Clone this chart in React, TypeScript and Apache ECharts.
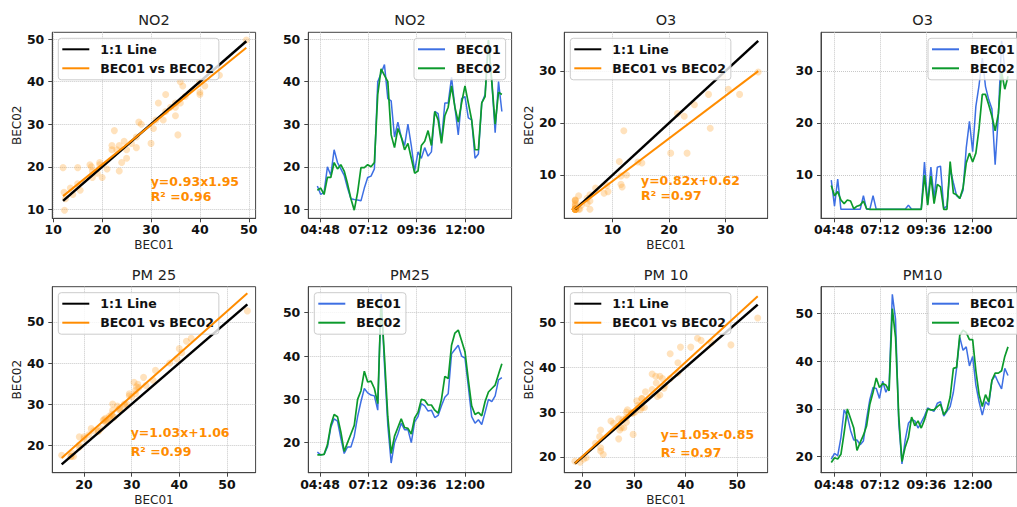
import React, { useEffect, useRef } from "react";
import * as echarts from "echarts";

// ---------- data ----------
const TIMES = [
  "04:40", "04:50", "05:00", "05:10", "05:20", "05:30", "05:40", "05:50", "06:00", "06:10",
  "06:20", "06:30", "06:40", "06:50", "07:00", "07:10", "07:20", "07:30", "07:40", "07:50",
  "08:00", "08:10", "08:20", "08:30", "08:40", "08:50", "09:00", "09:10", "09:20", "09:30",
  "09:40", "09:50", "10:00", "10:10", "10:20", "10:30", "10:40", "10:50", "11:00", "11:10",
  "11:20", "11:30", "11:40", "11:50", "12:00", "12:10", "12:20", "12:30", "12:40", "12:50",
  "13:00", "13:10", "13:20", "13:30", "13:40", "13:50",
];
const TIME_TICKS = ["04:48", "07:12", "09:36", "12:00"];

const NO2_BEC01 = [
  15.5, 13.5, 14, 20, 18, 24, 21, 19.5, 18, 15,
  12.5, 12.3, 12.2, 12, 15, 17.5, 17.8, 19.5, 40, 42,
  44, 36, 35.5, 27, 30.5, 27, 25, 30, 25, 19,
  23.5, 22, 24.5, 22.5, 23.5, 33, 32.5, 26, 35, 35,
  41, 34, 27.5, 36, 36.5, 31.5, 31, 22, 23, 35,
  37, 49.5, 40, 28, 40, 33,
];
const NO2_BEC02 = [
  14.5, 15, 13.5, 17.5, 17.5, 21, 19.5, 20.5, 19, 16,
  12.5, 9.8, 14, 19.8, 19.8, 20.5, 20, 21, 37, 43,
  41.5, 40, 27.5, 24.5, 29, 27, 24, 25.5, 22, 18.5,
  19, 25, 26, 28.5, 25, 33, 31, 25.5, 32, 34,
  39, 34, 30.5, 35, 39, 35, 31, 24, 24, 35,
  36.5, 49.8, 40, 30, 37.5, 37,
];
const O3_BEC01 = [
  9, 4, 9.2, 3.4, 3.4, 3.4, 3.4, 3.4, 3.4, 3.4,
  6, 3.4, 3.4, 6, 3.4, 3.4, 3.4, 3.4, 3.4, 3.4,
  3.4, 3.4, 3.4, 3.4, 4.2, 3.4, 3.4, 3.4, 3.4, 12.5,
  4.5, 11.5, 5.5, 11.5, 11.7, 3.6, 4, 11.2, 8.5, 6,
  5.5, 7, 15.2, 20.3, 14.5, 23.2, 27.3, 32.5, 27, 24.5,
  22.7, 12, 21.5, 35.8, 30.5, 29.5,
];
const O3_BEC02 = [
  8, 6, 6.8, 5.2, 4.5, 5.2, 5, 3.5, 4, 4.2,
  5, 3.5, 3.4, 3.4, 3.4, 3.4, 3.4, 3.4, 3.4, 3.4,
  3.4, 3.4, 3.4, 3.4, 3.4, 3.4, 3.4, 3.4, 3.4, 10,
  4.2, 9.8, 4.5, 8.2, 7.7, 3.4, 3.4, 12.6, 6.5, 6.2,
  5.5, 7.5, 12.3, 14.2, 12.5, 14.2, 19, 25.5, 25.5, 23.5,
  21.3, 18.5, 21.8, 29.8, 26.5, 29,
];
const PM25_BEC01 = [
  17.8, 17.2, 17.3, 19, 23.5, 25.5, 25, 21, 17.5, 19,
  19, 21.5, 26, 29.5, 32.5, 31.5, 31, 30.8, 27.5, 54.3,
  38, 24, 15.3, 20, 22, 24.5, 23, 23, 20, 24.8,
  26, 29, 28.5, 27.3, 27.5, 25.8, 26.3, 28.5, 30.5, 31.3,
  40.5, 41.5, 42.5, 40, 39.5, 33, 26, 24.5, 25.3, 24.2,
  27, 30, 29.5, 30.8, 34.5, 35,
];
const PM25_BEC02 = [
  17.2, 17.2, 17.3, 19.5, 24, 26.5, 26, 22.5, 18, 20,
  22, 24, 30, 32, 36.5, 34, 34.2, 32.5, 29, 52.7,
  40, 26, 17.5, 21.5, 23.5, 25.5, 23.5, 23.3, 22, 25.7,
  27, 30, 29.8, 28.7, 28.7, 27.5, 26.8, 30, 35.3, 34.8,
  42.5, 45.3, 46, 43.5, 41, 34.5, 28.5, 26.5, 27, 26.2,
  29.5, 31.7, 32.5, 33.3, 35.8, 38.2,
];
const PM10_BEC01 = [
  19.5, 20.7, 20.2, 24, 29.8, 28.5, 25.5, 23.5, 23.5, 22.5,
  23.3, 28, 32, 34.5, 34.3, 32.2, 35.8, 33.5, 35, 54,
  48.8, 27, 18.5, 23.5, 27, 27.8, 27.5, 26, 27.2, 28.5,
  30.2, 29.8, 29.5, 31.2, 31.5, 28.5, 29.5, 30.5, 33.5, 38.5,
  45, 42.3, 43, 39, 41, 35, 31.5, 28.7, 31.5, 30.8,
  36, 37, 35.5, 34.2, 38.5, 37,
];
const PM10_BEC02 = [
  18.8, 19.8, 19.5, 20.5, 25, 30, 28, 26, 21.3, 23,
  24.5, 26.5, 31, 33.5, 36.5, 34.5, 35.3, 35, 33.8, 51,
  45, 28.5, 19, 22, 24, 28.3, 26.5, 27.5, 26, 27.7,
  30, 29.8, 29.8, 30.5, 31, 28.8, 29.8, 32.5, 38.5, 38.7,
  45.5, 46.5, 46, 44.5, 44.5, 38, 33, 30.5, 33, 31.5,
  36, 37.5, 37.5, 38, 41, 43,
];

const SCATTER_TITLES = ["NO2", "O3", "PM 25", "PM 10"];
const LINE_TITLES = ["NO2", "O3", "PM25", "PM10"];
const FIT_SLOPES = [0.93, 0.82, 1.03, 1.05];
const FIT_INTERCEPTS = [1.95, 0.62, 1.06, -0.85];
const FIT_LABELS = ["y=0.93x1.95", "y=0.82x+0.62", "y=1.03x+1.06", "y=1.05x-0.85"];
const R2_LABELS = ["R² =0.96", "R² =0.97", "R² =0.99", "R² =0.97"];

const TICKS_NO2 = [10, 20, 30, 40, 50];
const TICKS_O3 = [10, 20, 30];
const TICKS_PM = [20, 30, 40, 50];

const BEC01 = [NO2_BEC01, O3_BEC01, PM25_BEC01, PM10_BEC01];
const BEC02 = [NO2_BEC02, O3_BEC02, PM25_BEC02, PM10_BEC02];

// ---------- layout ----------
const FONT = "DejaVu Sans";
const COL_LEFT = [52.3, 308.3, 564.3, 821];
const ROW_TOP = [32.3, 286.7];
const GW = 203.3;
const GH = 186;

const toMin = (s: string) => {
  const [h, m] = s.split(":").map(Number);
  return h * 60 + m;
};
const fmtTime = (v: number) => {
  const h = Math.floor(v / 60);
  const m = Math.round(v - h * 60);
  return String(h).padStart(2, "0") + ":" + String(m).padStart(2, "0");
};

const PANEL_CFG = [
  { sx: [9.8, 51.4], sy: [7.9, 51.6], tx: [253, 859], ty: [7.9, 51.6], ticks: TICKS_NO2, xticks: TICKS_NO2, row: 0, sc: 0, lc: 1, lineLegendLeft: 414, text: [150.7, 181.5, 196.5] },
  { sx: [1.46, 37.46], sy: [1.67, 37.44], tx: [248, 858], ty: [1.67, 37.44], ticks: TICKS_O3, xticks: TICKS_O3, row: 0, sc: 2, lc: 3, lineLegendLeft: 928, text: [641, 180.5, 195.5] },
  { sx: [13.33, 56.03], sy: [13.26, 58.6], tx: [253, 859], ty: [13.07, 56.0], ticks: TICKS_PM, xticks: TICKS_PM, row: 1, sc: 0, lc: 1, lineLegendLeft: 314.3, text: [130.7, 432.7, 451] },
  { sx: [16.44, 55.92], sy: [16.44, 58.0], tx: [248, 858], ty: [16.65, 55.6], ticks: TICKS_PM, xticks: TICKS_PM, row: 1, sc: 2, lc: 3, lineLegendLeft: 928, text: [660.7, 434, 452] },
];

const tickLabel = {
  fontFamily: FONT,
  fontSize: 12.5,
  fontWeight: "bold" as const,
  color: "#111",
};
const splitLine = { show: true, lineStyle: { color: "#c8c8c8", type: "dotted" as const, width: 1 } };
const axisLine = { show: true, lineStyle: { color: "#444", width: 1 } };

function buildOption() {
  const grid: any[] = [];
  const xAxis: any[] = [];
  const yAxis: any[] = [];
  const series: any[] = [];
  const legend: any[] = [];
  const graphic: any[] = [];
  const timeTicks = TIME_TICKS.map(toMin);
  const tmins = TIMES.map(toMin);

  const legendBase = {
    orient: "vertical",
    icon: "rect",
    itemWidth: 27,
    itemHeight: 2,
    itemGap: 4,
    padding: [3.5, 5, 4, 4],
    backgroundColor: "rgba(255,255,255,0.8)",
    borderColor: "#cccccc",
    borderWidth: 1,
    borderRadius: 3,
    selectedMode: false,
    textStyle: { ...tickLabel, lineHeight: 15, padding: [0, 0, 0, 6] },
  };

  PANEL_CFG.forEach((cfg, p) => {
    const b1 = BEC01[p];
    const b2 = BEC02[p];
    const top = ROW_TOP[cfg.row];

    // ----- scatter panel -----
    const gi = grid.length;
    grid.push({ left: COL_LEFT[cfg.sc], top, width: GW, height: GH, show: true, borderColor: "#444", borderWidth: 1, containLabel: false });
    xAxis.push({
      gridIndex: gi, type: "value", min: cfg.sx[0], max: cfg.sx[1],
      axisLine, axisTick: { show: true, length: 4, lineStyle: { color: "#444" }, customValues: cfg.xticks },
      axisLabel: { ...tickLabel, margin: 5, customValues: cfg.xticks },
      splitLine,
      name: "BEC01", nameLocation: "middle", nameGap: 21,
      nameTextStyle: { fontFamily: FONT, fontSize: 12, color: "#222" },
    });
    yAxis.push({
      gridIndex: gi, type: "value", min: cfg.sy[0], max: cfg.sy[1],
      axisLine, axisTick: { show: true, length: 4, lineStyle: { color: "#444" }, customValues: cfg.ticks },
      axisLabel: { ...tickLabel, margin: 8, customValues: cfg.ticks },
      splitLine,
      name: "BEC02", nameLocation: "middle", nameGap: 29,
      nameTextStyle: { fontFamily: FONT, fontSize: 12, color: "#222" },
    });
    const mn = Math.min(...b1);
    const mx = Math.max(...b1);
    const a = FIT_SLOPES[p];
    const b = FIT_INTERCEPTS[p];
    series.push({
      type: "scatter", xAxisIndex: gi, yAxisIndex: gi, silent: true,
      data: b1.map((v, i) => [v, b2[i]]), symbolSize: 7,
      itemStyle: { color: "rgba(255,160,40,0.38)" }, z: 1,
    });
    series.push({
      type: "line", name: "1:1 Line", xAxisIndex: gi, yAxisIndex: gi, symbol: "none",
      data: [[mn, mn], [mx, mx]], color: "#000000", lineStyle: { color: "#000000", width: 2.5 }, z: 3,
    });
    series.push({
      type: "line", name: "BEC01 vs BEC02", xAxisIndex: gi, yAxisIndex: gi, symbol: "none",
      data: [[mn, a * mn + b], [mx, a * mx + b]], color: "#ff8c00", lineStyle: { color: "#ff8c00", width: 2 }, z: 4,
    });
    legend.push({ ...legendBase, data: ["1:1 Line", "BEC01 vs BEC02"], left: COL_LEFT[cfg.sc] + 6, top: top + 6 });
    graphic.push({ type: "text", x: COL_LEFT[cfg.sc] + GW / 2, y: top - 12, style: { text: SCATTER_TITLES[p], fill: "#222", font: `14.5px "${FONT}"`, align: "center", verticalAlign: "middle" } });
    graphic.push({ type: "text", x: cfg.text[0], y: cfg.text[1], z: 10, style: { text: FIT_LABELS[p], fill: "#ff8c00", font: `bold 12.5px "${FONT}"`, align: "left", verticalAlign: "middle" } });
    graphic.push({ type: "text", x: cfg.text[0], y: cfg.text[2], z: 10, style: { text: R2_LABELS[p], fill: "#ff8c00", font: `bold 12.5px "${FONT}"`, align: "left", verticalAlign: "middle" } });

    // ----- time-series panel -----
    const gj = grid.length;
    grid.push({ left: COL_LEFT[cfg.lc], top, width: GW, height: GH, show: true, borderColor: "#444", borderWidth: 1, containLabel: false });
    xAxis.push({
      gridIndex: gj, type: "value", min: cfg.tx[0], max: cfg.tx[1],
      axisLine, axisTick: { show: true, length: 4, lineStyle: { color: "#444" }, customValues: timeTicks },
      axisLabel: { ...tickLabel, margin: 5, customValues: timeTicks, formatter: (v: number) => fmtTime(v) },
      splitLine,
    });
    yAxis.push({
      gridIndex: gj, type: "value", min: cfg.ty[0], max: cfg.ty[1],
      axisLine, axisTick: { show: true, length: 4, lineStyle: { color: "#444" }, customValues: cfg.ticks },
      axisLabel: { ...tickLabel, margin: 8, customValues: cfg.ticks },
      splitLine,
    });
    series.push({
      type: "line", name: "BEC01", xAxisIndex: gj, yAxisIndex: gj, symbol: "none",
      data: tmins.map((t, i) => [t, b1[i]]), color: "#3d6fe3", lineStyle: { color: "#3d6fe3", width: 1.5 }, z: 2,
    });
    series.push({
      type: "line", name: "BEC02", xAxisIndex: gj, yAxisIndex: gj, symbol: "none",
      data: tmins.map((t, i) => [t, b2[i]]), color: "#0c9a2c", lineStyle: { color: "#0c9a2c", width: 1.7 }, z: 3,
    });
    legend.push({ ...legendBase, data: ["BEC01", "BEC02"], left: cfg.lineLegendLeft, top: top + 6 });
    graphic.push({ type: "text", x: COL_LEFT[cfg.lc] + GW / 2, y: top - 12, style: { text: LINE_TITLES[p], fill: "#222", font: `14.5px "${FONT}"`, align: "center", verticalAlign: "middle" } });
  });

  return {
    animation: false,
    backgroundColor: "#ffffff",
    textStyle: { fontFamily: FONT },
    grid,
    xAxis,
    yAxis,
    legend,
    series,
    graphic,
  };
}

export default function App() {
  const ref = useRef<HTMLDivElement>(null);
  useEffect(() => {
    if (!ref.current) return;
    const chart = echarts.init(ref.current, null, { renderer: "svg" });
    chart.setOption(buildOption() as any);
    return () => chart.dispose();
  }, []);
  return (
    <div
      ref={ref}
      style={{ position: "fixed", left: 0, top: 0, width: 1017, height: 507, background: "#fff" }}
    />
  );
}
